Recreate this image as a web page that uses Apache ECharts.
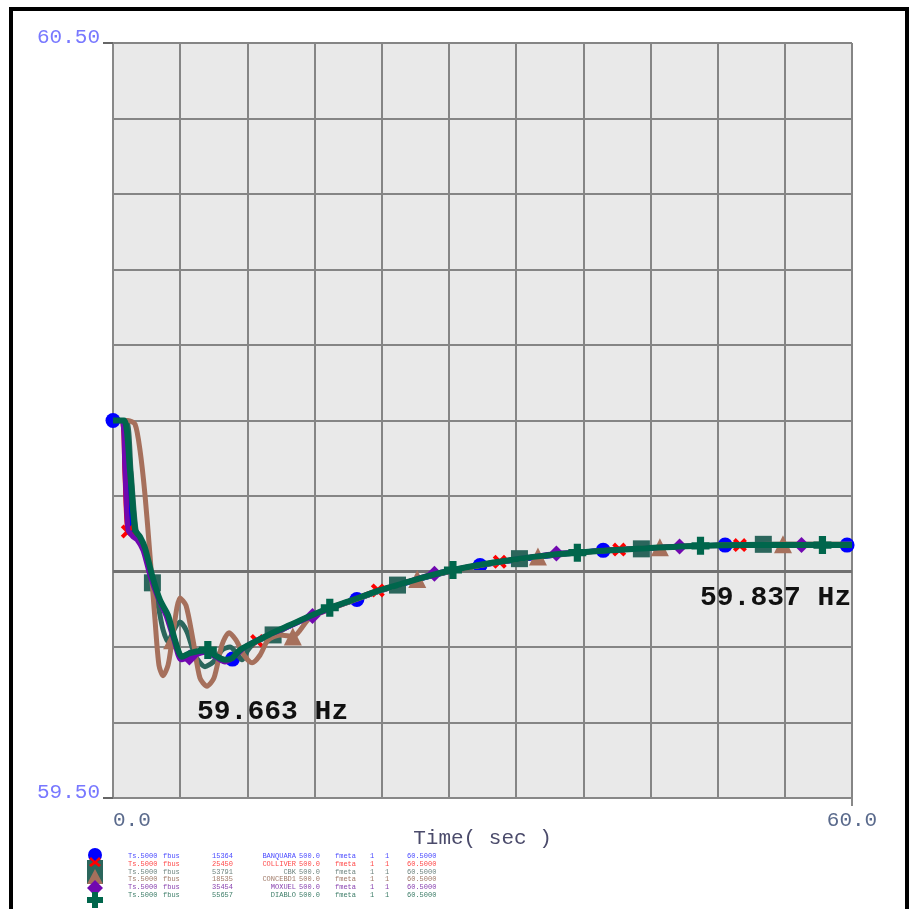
<!DOCTYPE html>
<html><head><meta charset="utf-8">
<script src="https://cdn.jsdelivr.net/npm/echarts@6/dist/echarts.min.js"></script>
<style>html,body{margin:0;padding:0;background:#fff}#c{width:914px;height:909px}</style>
</head><body><div id="c"></div>
<script>
// ---- data (time in s, frequency in Hz) ----
const blueTime = [0, 0.81, 1.05, 1.3, 1.62, 2.03, 2.52, 3.09, 3.73, 4.38, 5.03, 5.6, 6.25, 7.47, 8.28, 9.09, 9.7, 10.31, 11.53, 12.75, 14.37, 16.0, 17.62, 19.8, 21.27, 23.3, 25.33, 27.35, 29.8, 32.2, 35.5, 39.8, 43.6, 47.7, 49.7, 51.7, 55.8, 59.6, 60];
const blueFreq = [60.000, 60.000, 59.940, 59.880, 59.855, 59.846, 59.830, 59.795, 59.762, 59.742, 59.708, 59.685, 59.689, 59.695, 59.688, 59.681, 59.684, 59.695, 59.706, 59.716, 59.728, 59.740, 59.751, 59.763, 59.772, 59.782, 59.792, 59.800, 59.808, 59.814, 59.821, 59.828, 59.831, 59.834, 59.835, 59.835, 59.835, 59.835, 59.835];
const blueMarks = [0, 9.7, 19.8, 29.8, 39.8, 49.7, 59.6];

const redTime = [0, 0.73, 0.97, 1.2, 1.62, 2.19, 2.6, 3.09, 3.73, 4.38, 5.03, 5.6, 6.25, 7.47, 8.28, 9.09, 9.66, 10.31, 11.7, 12.75, 14.37, 16.0, 17.62, 19.24, 21.5, 23.3, 25.33, 27.35, 29.8, 31.4, 35.5, 41.1, 43.6, 47.7, 50.9, 55.8, 60];
const redFreq = [60.000, 60.000, 59.930, 59.853, 59.848, 59.844, 59.830, 59.796, 59.763, 59.742, 59.709, 59.688, 59.691, 59.695, 59.689, 59.683, 59.685, 59.696, 59.708, 59.717, 59.729, 59.741, 59.752, 59.761, 59.775, 59.783, 59.793, 59.801, 59.809, 59.813, 59.822, 59.829, 59.831, 59.834, 59.835, 59.835, 59.835];
const redMarks = [1.2, 11.7, 21.5, 31.4, 41.1, 50.9];

const tealTime = [0, 1.06, 1.46, 1.87, 2.27, 2.76, 3.2, 3.65, 4.06, 4.47, 4.95, 5.44, 6.01, 6.66, 7.47, 8.12, 8.85, 9.50, 9.99, 10.47, 10.96, 11.61, 13.0, 14.37, 16.0, 17.62, 19.24, 21.27, 23.1, 25.33, 27.35, 29.8, 33.0, 35.5, 39.5, 42.9, 47.7, 52.8, 55.8, 60];
const tealFreq = [60.000, 60.000, 59.934, 59.855, 59.842, 59.822, 59.785, 59.756, 59.723, 59.707, 59.723, 59.733, 59.720, 59.689, 59.674, 59.680, 59.696, 59.700, 59.693, 59.683, 59.696, 59.707, 59.716, 59.728, 59.740, 59.751, 59.760, 59.772, 59.782, 59.792, 59.800, 59.808, 59.817, 59.821, 59.827, 59.830, 59.834, 59.836, 59.836, 59.836];
const tealMarks = [3.2, 13.0, 23.1, 33.0, 42.9, 52.8];

const brownTime = [0, 1.22, 1.79, 2.19, 2.60, 3.00, 3.41, 3.73, 4.06, 4.47, 4.8, 5.44, 5.93, 6.50, 7.06, 7.63, 8.20, 8.85, 9.42, 9.99, 10.64, 11.29, 11.93, 12.58, 13.56, 14.6, 16.0, 17.62, 19.24, 21.27, 24.7, 27.35, 29.8, 34.5, 39.5, 44.4, 47.7, 54.4, 60];
const brownFreq = [60.000, 60.000, 59.995, 59.961, 59.901, 59.822, 59.736, 59.676, 59.662, 59.676, 59.709, 59.765, 59.755, 59.709, 59.659, 59.648, 59.659, 59.703, 59.719, 59.709, 59.689, 59.679, 59.689, 59.709, 59.716, 59.714, 59.739, 59.750, 59.760, 59.772, 59.790, 59.800, 59.808, 59.820, 59.827, 59.832, 59.834, 59.836, 59.836];
const brownMarks = [4.8, 14.6, 24.7, 34.5, 44.4, 54.4];

const purpleTime = [0, 0.73, 0.97, 1.22, 1.62, 1.95, 2.44, 3.00, 3.65, 4.30, 4.95, 5.52, 6.2, 7.47, 8.28, 9.09, 9.90, 10.72, 11.93, 13.56, 16.2, 19.24, 21.27, 23.3, 26.1, 29.8, 32.2, 36.0, 39.5, 43.6, 46.0, 51.7, 55.9, 60];
const purpleFreq = [60.000, 60.000, 59.934, 59.855, 59.846, 59.842, 59.828, 59.795, 59.765, 59.742, 59.709, 59.683, 59.686, 59.693, 59.687, 59.680, 59.688, 59.700, 59.711, 59.722, 59.741, 59.761, 59.773, 59.783, 59.797, 59.809, 59.815, 59.824, 59.827, 59.831, 59.833, 59.835, 59.835, 59.835];
const purpleMarks = [6.2, 16.2, 26.1, 36.0, 46.0, 55.9];

const greenTime = [0, 0.9, 1.38, 1.79, 2.19, 2.6, 3.17, 3.82, 4.47, 5.03, 5.6, 6.25, 7.7, 8.28, 9.09, 9.66, 10.31, 11.53, 12.75, 14.37, 16.0, 17.6, 19.24, 21.27, 23.3, 25.33, 27.6, 29.8, 32.2, 35.5, 37.7, 39.5, 43.6, 47.7, 51.7, 55.8, 57.6, 60];
const greenFreq = [60.000, 60.000, 59.934, 59.855, 59.846, 59.831, 59.795, 59.762, 59.742, 59.709, 59.687, 59.692, 59.696, 59.689, 59.683, 59.685, 59.696, 59.707, 59.717, 59.729, 59.741, 59.752, 59.761, 59.773, 59.783, 59.793, 59.802, 59.809, 59.815, 59.822, 59.825, 59.827, 59.831, 59.834, 59.835, 59.835, 59.835, 59.835];
const greenMarks = [7.7, 17.6, 27.6, 37.7, 47.7, 57.6];

const refLine = 59.8;
const yTickLabels = [59.5, 60.5];
const xTickLabels = [0, 60];
const minLabel = '59.663 Hz';
const finalLabel = '59.837 Hz';

const legendBus = ['15364', '25450', '53791', '18535', '35454', '55657'];
const legendNames = ['BANQUARA', 'COLLIVER', 'CBK', 'CONCEBD1', 'MOXUEL', 'DIABLO'];

// ---- styling ----
const MONO = '"Liberation Mono", "DejaVu Sans Mono", monospace';
const X_PATH = 'path://M2,0 L5,3 L8,0 L10,2 L7,5 L10,8 L8,10 L5,7 L2,10 L0,8 L3,5 L0,2 Z';
const PLUS_PATH = 'path://M3,0 H7 V3 H10 V7 H7 V10 H3 V7 H0 V3 H3 Z';

const defs = [
  {name: 'BANQUARA', t: blueTime, v: blueFreq, m: blueMarks, color: '#0000ff', symbol: 'circle', size: 15, width: 5, text: '#4b4bff'},
  {name: 'COLLIVER', t: redTime, v: redFreq, m: redMarks, color: '#ff0000', symbol: X_PATH, size: 14, width: 5, text: '#ff4a4a'},
  {name: 'CBK', t: tealTime, v: tealFreq, m: tealMarks, color: '#2b665c', symbol: 'rect', size: 17, width: 5, text: '#6f8580'},
  {name: 'CONCEBD1', t: brownTime, v: brownFreq, m: brownMarks, color: '#a6705c', symbol: 'triangle', size: 18, width: 5, text: '#a07a68'},
  {name: 'MOXUEL', t: purpleTime, v: purpleFreq, m: purpleMarks, color: '#7008b0', symbol: 'diamond', size: 16, width: 5, text: '#8a44b0'},
  {name: 'DIABLO', t: greenTime, v: greenFreq, m: greenMarks, color: '#00664c', symbol: PLUS_PATH, size: 18, width: 6, text: '#3d7d68'}
];

function build(d) {
  return d.t.map((t, i) => {
    const item = {value: [t, d.v[i]]};
    if (d.m.indexOf(t) < 0) item.symbol = 'none';
    return item;
  });
}

const series = defs.map((d, k) => ({
  type: 'line', name: d.name, data: build(d), symbol: d.symbol, symbolSize: d.size,
  xAxisIndex: 0, yAxisIndex: 0,
  showSymbol: true, showAllSymbol: true, clip: false, smooth: 0.25, animation: false,
  lineStyle: {color: d.color, width: d.width}, itemStyle: {color: d.color, borderWidth: 0},
  z: 3 + k,
  markLine: k === 0 ? {silent: true, symbol: 'none', label: {show: false},
    lineStyle: {color: '#707070', width: 3, type: 'solid'}, data: [{yAxis: refLine}]} : undefined
}));

// legend block as graphic
const legendEls = [];
const rowY = [856, 864, 872, 879, 887, 895];
defs.forEach((d, i) => {
  const cols = [
    [128, 'left', 'Ts.5000'], [163, 'left', 'fbus'], [212, 'left', legendBus[i]],
    [296, 'right', legendNames[i]], [299, 'left', '500.0'], [335, 'left', 'fmeta'],
    [370, 'left', '1'], [385, 'left', '1'], [407, 'left', '60.5000']
  ];
  cols.forEach(c => legendEls.push({type: 'text', silent: true, style: {x: c[0], y: rowY[i], text: c[2], align: c[1], verticalAlign: 'middle', font: '7px ' + MONO, fill: d.text}}));
});
legendEls.push({type: 'rect', shape: {x: 87, y: 860, width: 16, height: 24}, style: {fill: '#2b665c'}});
legendEls.push({type: 'circle', shape: {cx: 95, cy: 855, r: 7}, style: {fill: '#0000ff'}});
legendEls.push({type: 'polygon', shape: {points: [[95, 861], [91, 857], [89, 859], [93, 862], [89, 865], [91, 867], [95, 864], [99, 867], [101, 865], [97, 862], [101, 859], [99, 857]]}, style: {fill: '#ff0000'}});
legendEls.push({type: 'polygon', shape: {points: [[95, 869], [103, 884], [87, 884]]}, style: {fill: '#a6705c'}});
legendEls.push({type: 'polygon', shape: {points: [[95, 880], [103, 888], [95, 896], [87, 888]]}, style: {fill: '#7008b0'}});
legendEls.push({type: 'polygon', shape: {points: [[92, 892], [98, 892], [98, 897], [103, 897], [103, 903], [98, 903], [98, 908], [92, 908], [92, 903], [87, 903], [87, 897], [92, 897]]}, style: {fill: '#00664c'}});

const chart = echarts.init(document.getElementById('c'), null, {renderer: 'canvas'});
chart.setOption({
  backgroundColor: '#ffffff',
  animation: false,
  grid: {left: 113, right: 62, top: 43, bottom: 111, show: true, backgroundColor: '#e9e9e9', borderWidth: 0},
  xAxis: [{
    type: 'value', min: 0, max: 60, interval: 60 / 11,
    axisLine: {show: true, lineStyle: {color: '#888', width: 2}},
    axisTick: {show: false},
    axisLabel: {customValues: xTickLabels, formatter: v => v.toFixed(1), fontFamily: MONO, fontSize: 21, color: '#5a6a8c', margin: 12, alignMinLabel: 'left'},
    splitLine: {show: true, lineStyle: {color: '#858585', width: 2}},
    name: 'Time( sec )', nameLocation: 'middle', nameGap: 30, nameMoveOverlap: false,
    nameTextStyle: {fontFamily: MONO, fontSize: 21, color: '#4b4b6b'}
  }, {
    type: 'value', min: 0, max: 60, position: 'bottom',
    axisLine: {show: false}, axisLabel: {show: false}, splitLine: {show: false},
    axisTick: {show: true, customValues: [60], length: 8, lineStyle: {color: '#888', width: 2}}
  }],
  yAxis: [{
    type: 'value', min: 59.5, max: 60.5, interval: 0.1,
    axisLine: {show: true, lineStyle: {color: '#888', width: 2}},
    axisTick: {show: false},
    axisLabel: {customValues: yTickLabels, formatter: v => v.toFixed(2), fontFamily: MONO, fontSize: 21, color: '#7878ff', margin: 13, verticalAlign: 'bottom', lineHeight: 11},
    splitLine: {show: true, lineStyle: {color: '#858585', width: 2}}
  }, {
    type: 'value', min: 59.5, max: 60.5, position: 'left',
    axisLine: {show: false}, axisLabel: {show: false}, splitLine: {show: false},
    axisTick: {show: true, customValues: yTickLabels, length: 10, lineStyle: {color: '#666', width: 2}}
  }],
  graphic: [
    {type: 'rect', silent: true, shape: {x: 11, y: 9, width: 896, height: 930}, style: {fill: 'none', stroke: '#000', lineWidth: 4}, z: 100},
    {type: 'text', silent: true, style: {x: 197, y: 712, text: minLabel, font: 'bold 28px ' + MONO, fill: '#111', verticalAlign: 'middle'}, z: 100},
    {type: 'text', silent: true, style: {x: 700, y: 598, text: finalLabel, font: 'bold 28px ' + MONO, fill: '#111', verticalAlign: 'middle'}, z: 100}
  ].concat(legendEls),
  series: series
});
</script></body></html>
